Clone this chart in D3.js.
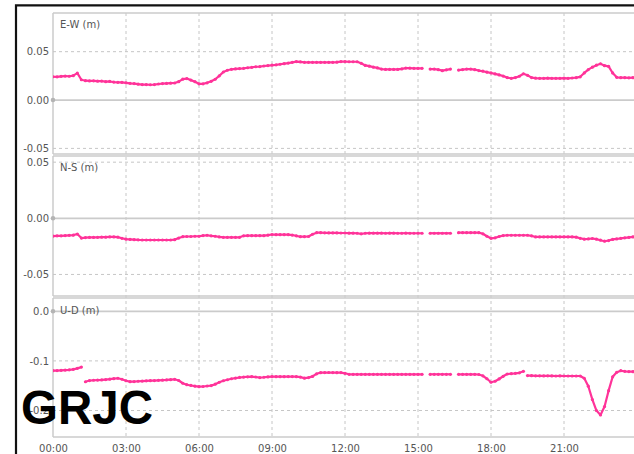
<!DOCTYPE html>
<html>
<head>
<meta charset="utf-8">
<script src="https://cdn.jsdelivr.net/npm/d3@7/dist/d3.min.js"></script>
<style>
  html, body { margin: 0; padding: 0; background: #fff; }
  svg { display: block; }
</style>
</head>
<body>
<svg id="chart" width="634" height="454"></svg>
<script>
// Station displacement, one sample every 10 minutes over a day (values in millimetres).
const sampleMinutes = 10;

const ewMm = [
  24.1, 24.0, 24.5, 24.8, 24.6, 25.2, 27.8, 21.0, 20.0, 19.8,
  19.9, 19.5, 19.6, 19.0, 19.2, 18.6, 18.3, 18.2, 17.8, 17.3,
  17.0, 16.4, 16.0, 16.0, 15.8, 16.0, 16.6, 17.0, 17.2, 17.4,
  17.6, 19.0, 21.6, 22.2, 20.6, 19.0, 16.8, 16.8, 17.8, 19.4,
  21.5, 25.0, 29.0, 30.8, 31.8, 32.2, 32.5, 32.8, 33.4, 33.8,
  34.4, 34.6, 35.2, 35.6, 36.0, 36.4, 37.0, 37.6, 38.2, 39.0,
  39.8, 39.4, 39.0, 39.0, 39.0, 39.0, 39.0, 39.0, 39.0, 39.0,
  39.2, 39.8, 39.8, 39.6, 39.6, 39.6, 38.0, 35.8, 35.0, 34.0,
  33.2, 32.0, 31.7, 31.7, 31.7, 31.7, 32.2, 33.0, 32.9, 32.8,
  32.8, 32.8, null, 32.0, 32.0, 31.4, 30.4, 31.2, 32.0, null,
  31.0, 31.5, 32.0, 32.0, 31.4, 30.5, 29.8, 28.8, 28.0, 27.0,
  26.0, 24.8, 23.2, 22.4, 23.2, 24.6, 27.2, 25.6, 23.2, 22.6,
  22.4, 22.4, 22.6, 22.4, 22.5, 22.4, 22.6, 22.5, 22.8, 23.1,
  24.0, 28.0, 31.5, 34.0, 36.0, 37.5, 35.5, 34.8, 28.0, 23.5,
  23.1, 23.1, 23.0, 23.1, 23.1
];

const nsMm = [
  -15.8, -15.6, -15.6, -15.4, -15.2, -15.0, -14.0, -17.6, -17.2, -17.0,
  -17.0, -16.9, -16.8, -16.8, -16.6, -16.6, -16.8, -17.8, -18.6, -18.8,
  -19.0, -19.2, -19.3, -19.3, -19.3, -19.3, -19.3, -19.3, -19.3, -19.3,
  -19.0, -17.6, -16.4, -16.2, -16.2, -16.0, -16.0, -15.4, -15.1, -15.6,
  -16.0, -16.6, -16.9, -16.9, -16.9, -16.9, -16.9, -15.6, -15.5, -15.5,
  -15.5, -15.5, -15.5, -15.0, -14.4, -14.6, -14.6, -14.6, -14.6, -14.9,
  -15.6, -16.4, -16.4, -16.2, -14.2, -12.8, -12.8, -12.9, -13.0, -13.0,
  -13.0, -13.1, -13.1, -13.2, -13.2, -13.3, -13.8, -13.3, -13.2, -13.2,
  -13.2, -13.2, -13.3, -13.2, -13.2, -13.3, -13.3, -13.2, -13.3, -13.3,
  -13.3, -13.3, null, -13.3, -13.3, -13.3, -13.3, -13.3, -13.3, null,
  -12.8, -12.8, -12.8, -12.8, -12.8, -12.8, -13.8, -16.0, -17.8, -17.4,
  -16.2, -15.4, -15.1, -15.1, -15.1, -15.1, -15.1, -15.1, -15.6, -16.6,
  -16.6, -16.6, -16.6, -16.6, -16.6, -16.6, -16.6, -16.6, -16.6, -16.8,
  -17.8, -18.6, -18.4, -18.0, -18.6, -19.5, -20.4, -19.8, -18.8, -18.4,
  -17.8, -17.4, -17.0, -16.6, -16.5
];

const udMm = [
  -119.7, -119.5, -119.0, -118.4, -118.0, -117.0, -115.0, -112.5, -142.0, -139.6,
  -139.0, -138.6, -138.4, -137.6, -136.8, -135.8, -135.0, -137.0, -140.0, -141.8,
  -141.6, -141.0, -140.6, -140.2, -139.9, -139.6, -139.2, -138.8, -138.4, -137.8,
  -137.1, -139.5, -145.0, -148.0, -149.5, -151.0, -152.0, -151.6, -150.6, -149.8,
  -147.0, -143.0, -140.0, -138.0, -136.0, -134.6, -133.4, -132.6, -132.0, -131.8,
  -132.4, -133.6, -133.0, -132.2, -131.8, -131.8, -131.8, -131.8, -131.6, -131.6,
  -131.8, -132.6, -134.8, -133.6, -131.2, -126.0, -123.7, -123.6, -123.4, -123.6,
  -123.7, -123.5, -125.0, -127.0, -127.0, -127.0, -127.0, -127.0, -127.0, -127.0,
  -127.0, -127.0, -127.0, -127.0, -127.0, -127.0, -127.0, -127.0, -127.0, -127.0,
  -127.0, -127.0, null, -127.0, -127.0, -127.0, -127.0, -127.0, -127.0, null,
  -127.0, -127.0, -127.0, -127.0, -127.0, -127.4, -130.0, -136.0, -143.0, -141.0,
  -136.4, -131.0, -126.4, -125.8, -125.0, -124.0, -121.0, -129.6, -129.8, -130.0,
  -130.0, -130.2, -130.0, -130.2, -130.4, -130.2, -130.4, -130.4, -130.4, -130.4,
  -130.4, -135.0, -151.0, -178.0, -200.0, -209.0, -192.0, -160.0, -132.0, -123.0,
  -119.8, -121.0, -121.5, -121.7, -121.7
];

// Sample indices where the receiver solution jumps (the trace restarts there).
const ewBreaks = [];
const nsBreaks = [];
const udBreaks = [8, 117];

const xTickHours = [0, 3, 6, 9, 12, 15, 18, 21];
const xTickLabels = ["00:00", "03:00", "06:00", "09:00", "12:00", "15:00", "18:00", "21:00"];

const ewTicks = [0.05, 0, -0.05];
const ewTickLabels = ["0.05", "0.00", "-0.05"];
const nsTicks = [0.05, 0, -0.05];
const nsTickLabels = ["0.05", "0.00", "-0.05"];
const udTicks = [0, -0.1, -0.2];
const udTickLabels = ["0.0", "-0.1", "-0.2"];

const panelTitles = ["E-W (m)", "N-S (m)", "U-D (m)"];
const stationName = "GRJC";

// ---------------------------------------------------------------------------
const svg = d3.select("#chart");
const plotLeft = 53, plotRight = 637, viewRight = 634;
const traceColor = "#ff3399";
const gridColor = "#c6c6c6";
const frameGray = "#cbcbcb";
const labelFont = "'DejaVu Sans', Verdana, sans-serif";

const x = d3.scaleLinear().domain([0, 24]).range([plotLeft, plotRight]);

const panels = [
  { title: panelTitles[0], values: ewMm, breaks: ewBreaks, ticks: ewTicks, labels: ewTickLabels,
    top: 13, bottom: 154, domain: [-0.0558, 0.0900], titleY: 28 },
  { title: panelTitles[1], values: nsMm, breaks: nsBreaks, ticks: nsTicks, labels: nsTickLabels,
    top: 156, bottom: 296, domain: [-0.0692, 0.0555], titleY: 171 },
  { title: panelTitles[2], values: udMm, breaks: udBreaks, ticks: udTicks, labels: udTickLabels,
    top: 298, bottom: 437, domain: [-0.2534, 0.0268], titleY: 314 }
];

svg.append("rect").attr("width", 634).attr("height", 454).attr("fill", "#fff");

svg.append("defs").append("clipPath").attr("id", "plotClip")
  .append("rect").attr("x", plotLeft).attr("y", 0).attr("width", viewRight - plotLeft).attr("height", 454);

// Vertical time grid across all three panels
svg.append("g").selectAll("line")
  .data(xTickHours.filter(h => h > 0))
  .join("line")
  .attr("x1", d => x(d)).attr("x2", d => x(d))
  .attr("y1", panels[0].top).attr("y2", panels[2].bottom)
  .attr("stroke", gridColor).attr("stroke-width", 1).attr("stroke-dasharray", "3,3");

function segmentsOf(values, breaks) {
  const segs = [];
  let cur = [];
  values.forEach((v, i) => {
    if (v === null || breaks.includes(i)) {
      if (cur.length) segs.push(cur);
      cur = [];
    }
    if (v !== null) cur.push({ h: i * sampleMinutes / 60, v: v / 1000 });
  });
  if (cur.length) segs.push(cur);
  return segs;
}

panels.forEach(p => {
  const y = d3.scaleLinear().domain(p.domain).range([p.bottom, p.top]);
  const g = svg.append("g");

  // panel frame: top, bottom and left edge
  g.append("line").attr("x1", plotLeft).attr("x2", viewRight).attr("y1", p.top).attr("y2", p.top)
    .attr("stroke", frameGray).attr("stroke-width", 1.5);
  g.append("line").attr("x1", plotLeft).attr("x2", viewRight).attr("y1", p.bottom).attr("y2", p.bottom)
    .attr("stroke", frameGray).attr("stroke-width", 1.5);
  g.append("line").attr("x1", plotLeft).attr("x2", plotLeft).attr("y1", p.top).attr("y2", p.bottom)
    .attr("stroke", frameGray).attr("stroke-width", 1.5);

  // horizontal grid: dashed, solid at zero
  g.selectAll("line.hgrid")
    .data(p.ticks)
    .join("line")
    .attr("class", "hgrid")
    .attr("x1", plotLeft).attr("x2", viewRight)
    .attr("y1", d => y(d)).attr("y2", d => y(d))
    .attr("stroke", d => d === 0 ? frameGray : gridColor)
    .attr("stroke-width", d => d === 0 ? 1.8 : 1)
    .attr("stroke-dasharray", d => d === 0 ? null : "3,3");

  // y tick labels
  const axis = d3.axisLeft(y)
    .tickValues(p.ticks)
    .tickFormat((d, i) => p.labels[i])
    .tickSize(0)
    .tickPadding(4);
  const ag = g.append("g").attr("transform", `translate(${plotLeft},0)`).call(axis);
  ag.select(".domain").remove();
  ag.selectAll("text")
    .attr("font-family", labelFont).attr("font-size", 10).attr("fill", "#555");

  // zero marker
  g.append("circle").attr("cx", plotLeft).attr("cy", y(0)).attr("r", 2.3).attr("fill", "#b4b4b4");

  // panel title
  g.append("text").attr("x", 60).attr("y", p.titleY).text(p.title)
    .attr("font-family", labelFont).attr("font-size", 10).attr("fill", "#555");

  // trace
  const tg = g.append("g").attr("clip-path", "url(#plotClip)");
  const line = d3.line().x(d => x(d.h)).y(d => y(d.v));
  const segs = segmentsOf(p.values, p.breaks);
  tg.selectAll("path.trace")
    .data(segs)
    .join("path")
    .attr("class", "trace")
    .attr("d", line)
    .attr("fill", "none").attr("stroke", traceColor).attr("stroke-width", 2.2)
    .attr("stroke-linejoin", "round");
  tg.selectAll("circle.pt")
    .data(segs.flat())
    .join("circle")
    .attr("class", "pt")
    .attr("cx", d => x(d.h)).attr("cy", d => y(d.v)).attr("r", 1.6)
    .attr("fill", traceColor);
});

// time axis labels
const xAxis = d3.axisBottom(x)
  .tickValues(xTickHours)
  .tickFormat((d, i) => xTickLabels[i])
  .tickSize(0)
  .tickPadding(8);
const xg = svg.append("g").attr("transform", `translate(0,${panels[2].bottom})`).call(xAxis);
xg.select(".domain").remove();
xg.selectAll("text")
  .attr("font-family", labelFont).attr("font-size", 10).attr("fill", "#555");

// outer frame
svg.append("path")
  .attr("d", "M16,454 V5.3 H634")
  .attr("fill", "none").attr("stroke", "#111").attr("stroke-width", 2.2);

// station name
svg.append("text")
  .attr("x", 21).attr("y", 423.5)
  .attr("font-family", "'Liberation Sans', Arial, Helvetica, sans-serif")
  .attr("font-weight", "bold").attr("font-size", 47.5)
  .attr("fill", "#000")
  .text(stationName);
</script>
</body>
</html>
